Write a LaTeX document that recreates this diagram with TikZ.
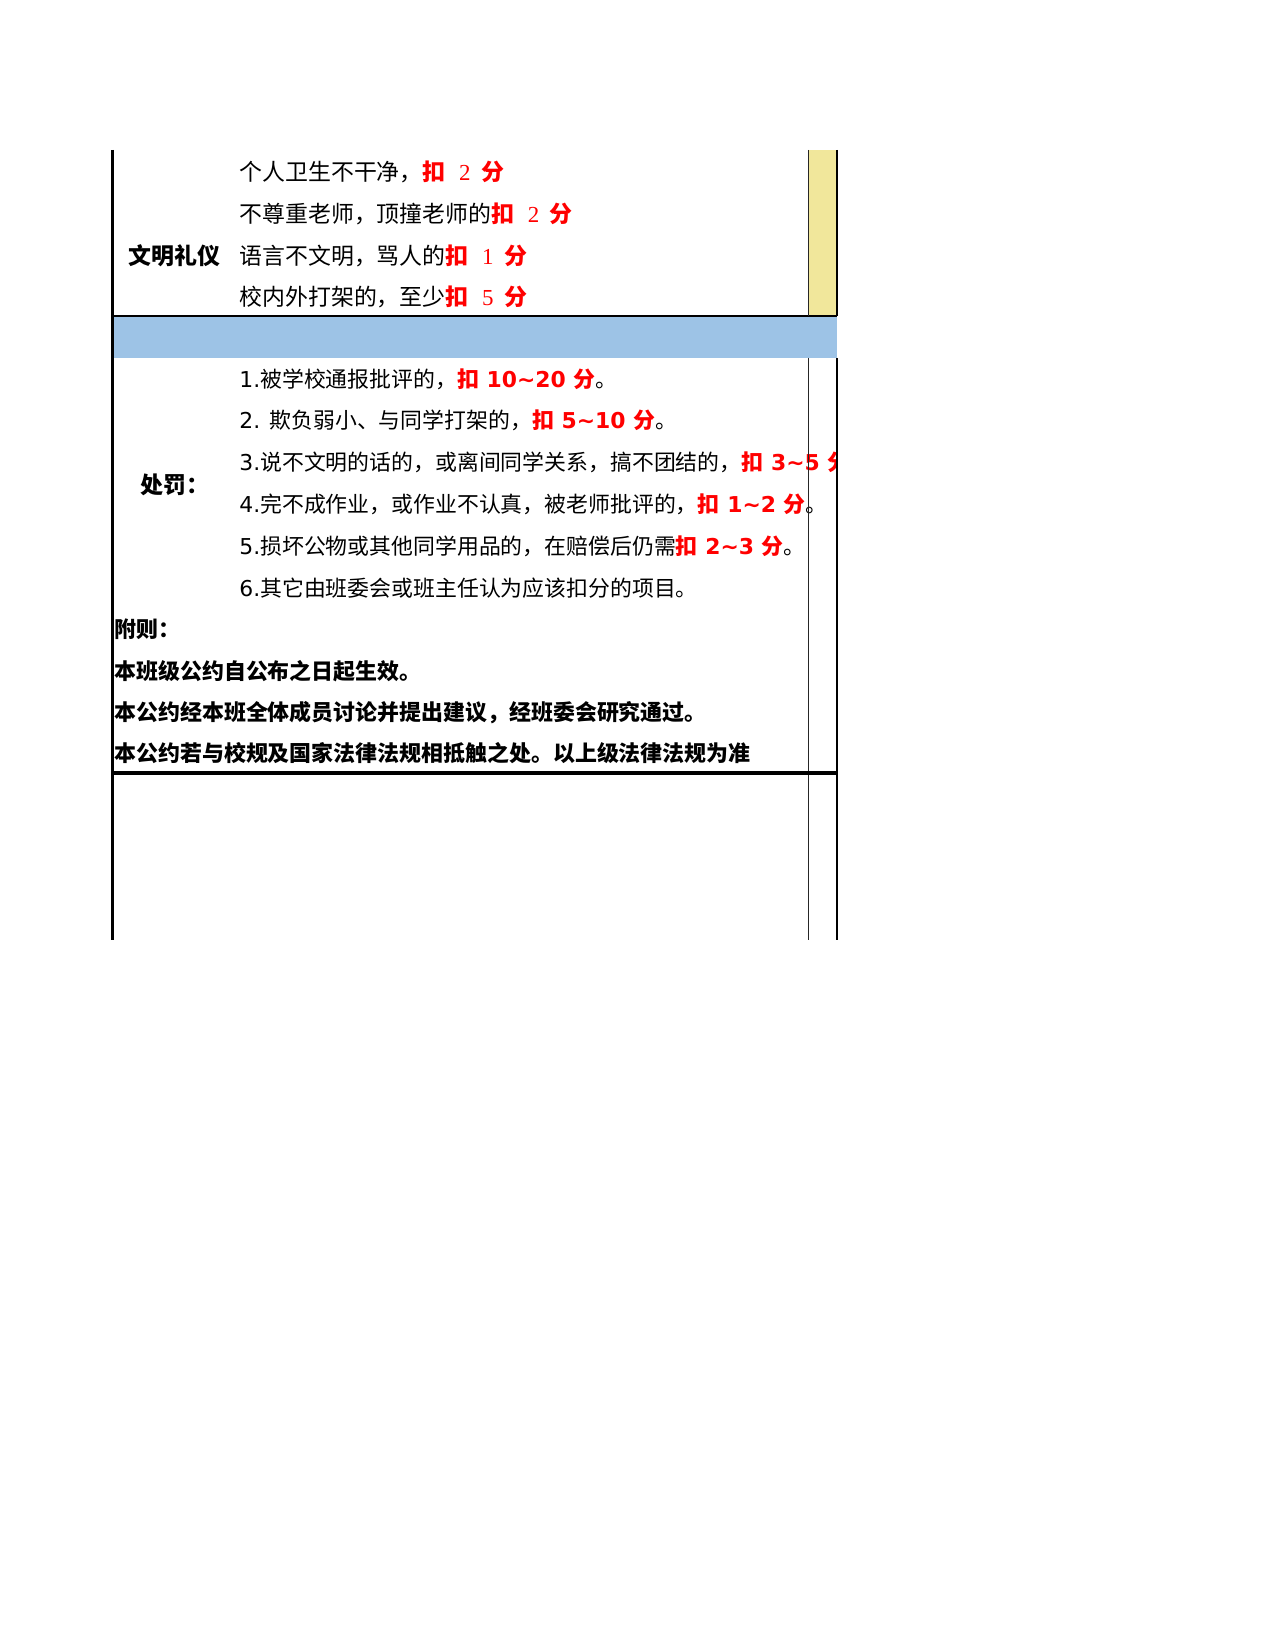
\documentclass[tikz,border=0pt]{standalone}
\usepackage{fontspec}
\setmainfont{DejaVu Sans}
\newfontfamily\cjk{Noto Sans CJK SC}
\newfontfamily\serifdig{Liberation Serif}
\newcommand\Cj[1]{{\cjk #1}}
\newcommand\Rd[1]{{\color{red}\bfseries #1}}
\newcommand\SD[1]{\Rd{\Cj{扣}\hspace{6.5pt}{\mdseries\serifdig #1}\hspace{5pt}\Cj{分}}}
\definecolor{cellyellow}{HTML}{F1E79B}
\definecolor{bandblue}{HTML}{9DC3E6}
\begin{document}
\begin{tikzpicture}[x=0.48pt,y=-0.48pt,
  rowtext/.style={anchor=base west,inner sep=0pt,font=\fontsize{10.5pt}{12pt}\selectfont},
  firsttext/.style={anchor=base west,inner sep=0pt,font=\fontsize{11pt}{13pt}\selectfont},
  headtext/.style={anchor=base west,inner sep=0pt,font=\fontsize{11pt}{13pt}\selectfont\cjk\bfseries},
  notetext/.style={anchor=base west,inner sep=0pt,font=\fontsize{10.53pt}{13pt}\selectfont\cjk\bfseries},
  thinrule/.style={line width=0.8pt,black},
  midrule/.style={line width=0.8pt,black!85},
  outerrule/.style={line width=1.1pt,black},
  siderule/.style={line width=1.5pt,black},
  heavyrule/.style={line width=1.8pt,black}]
\fill[white] (0,0) rectangle (1275,1650);
\useasboundingbox (0,0) rectangle (1275,1650);
% fills
\fill[cellyellow] (808.5,150) rectangle (837,316);
\fill[bandblue] (112.5,316) rectangle (837,358);
% section 1
\node[headtext] (wmly) at (128,264.5) {文明礼仪};
\node[firsttext] (a1) at (239,180.5) {\Cj{个人卫生不干净，}\SD{2}};
\node[firsttext] (a2) at (239,222.5) {\Cj{不尊重老师，顶撞老师的}\SD{2}};
\node[firsttext] (a3) at (239,264.5) {\Cj{语言不文明，骂人的}\SD{1}};
\node[firsttext] (a4) at (239,306) {\Cj{校内外打架的，至少}\SD{5}};
% section 2
\begin{scope}
\clip (113,358) rectangle (837,773);
\node[headtext] (cf) at (140,493) {处罚：};
\node[rowtext] (b1) at (239,387.5) {1.\Cj{被学校通报批评的，}\Rd{\Cj{扣} 10\textasciitilde20 \Cj{分}}\Cj{。}};
\node[rowtext] (b2) at (239,429) {2. \Cj{欺负弱小、与同学打架的，}\Rd{\Cj{扣} 5\textasciitilde10 \Cj{分}}\Cj{。}};
\node[rowtext] (b3) at (239,471) {3.\Cj{说不文明的话的，或离间同学关系，搞不团结的，}\Rd{\Cj{扣} 3\textasciitilde5 \Cj{分}}};
\node[rowtext] (b4) at (239,512.5) {4.\Cj{完不成作业，或作业不认真，被老师批评的，}\Rd{\Cj{扣} 1\textasciitilde2 \Cj{分}}\Cj{。}};
\node[rowtext] (b5) at (239,554.5) {5.\Cj{损坏公物或其他同学用品的，在赔偿后仍需}\Rd{\Cj{扣} 2\textasciitilde3 \Cj{分}}\Cj{。}};
\node[rowtext] (b6) at (239,596) {6.\Cj{其它由班委会或班主任认为应该扣分的项目。}};
% section 3
\node[notetext] (c0) at (114,637.5) {附则：};
\node[notetext] (c1) at (114,679) {本班级公约自公布之日起生效。};
\node[notetext] (c2) at (114,720.5) {本公约经本班全体成员讨论并提出建议，经班委会研究通过。};
\node[notetext] (c3) at (114,761) {本公约若与校规及国家法律法规相抵触之处。以上级法律法规为准};
\end{scope}
% rules
\draw[thinrule] (112.5,316) -- (837,316);
\draw[midrule] (808.5,150) -- (808.5,316);
\draw[outerrule] (837,150) -- (837,316);
\draw[midrule] (808.5,358) -- (808.5,940);
\draw[outerrule] (837,358) -- (837,940);
\draw[heavyrule] (112.5,773) -- (837,773);
\draw[siderule] (112.5,150) -- (112.5,940);
\end{tikzpicture}
\end{document}
